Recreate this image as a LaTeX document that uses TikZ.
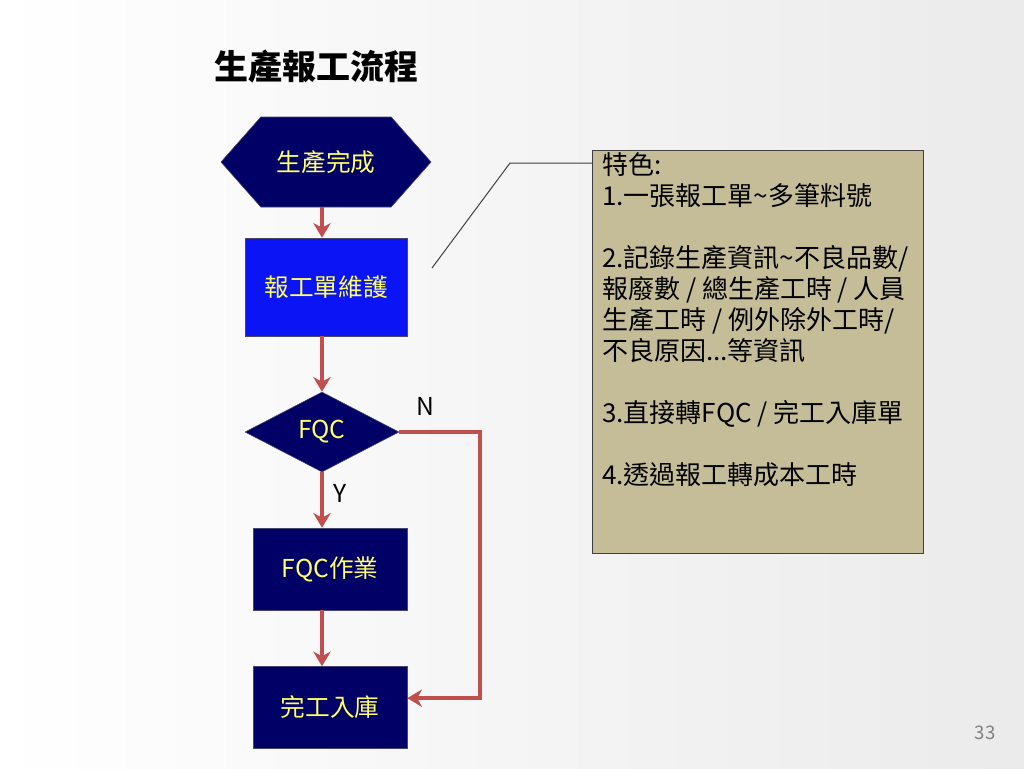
\documentclass[tikz,border=0pt]{standalone}
\usepackage{fontspec}
\setmainfont{Noto Sans CJK TC}
\usetikzlibrary{shapes.geometric, shapes.symbols, arrows.meta, positioning}
\definecolor{navy}{RGB}{0,0,102}
\definecolor{brightblue}{RGB}{10,20,245}
\definecolor{lemon}{RGB}{255,255,102}
\definecolor{edge}{RGB}{70,70,110}
\definecolor{arrowred}{RGB}{192,80,77}
\definecolor{tan}{RGB}{196,189,151}
\begin{document}
\begin{tikzpicture}[x=0.75pt, y=-0.75pt]
    \tikzset{
        hexa/.style = {signal, signal to=west and east, signal pointer angle=97, draw=edge, fill=navy, text=lemon, minimum width=157.5pt, minimum height=67.5pt, font=\fontsize{18.5pt}{22pt}\selectfont},
        task/.style = {rectangle, draw=edge, fill=navy, text=lemon, minimum width=115.5pt, minimum height=61.5pt, font=\fontsize{18.5pt}{22pt}\selectfont},
        maintask/.style = {task, fill=brightblue, minimum width=121.5pt, minimum height=73.5pt},
        check/.style = {diamond, aspect=2, draw=edge, fill=navy, text=lemon, minimum width=115.5pt, minimum height=60pt, inner sep=1pt, font=\fontsize{18.5pt}{22pt}\selectfont},
        notebox/.style = {rectangle, draw=black!75, fill=tan, anchor=north west, inner xsep=7.5pt, inner ysep=2pt, font=\fontsize{19.5pt}{23.2pt}\selectfont},
        tag/.style = {inner sep=0pt, font=\fontsize{18.5pt}{22pt}\selectfont},
        line/.style = {draw=arrowred, line width=3pt, -{Stealth[length=11pt, width=13pt, inset=3.5pt]}}
    }
    \fill[left color=white, right color=black!8] (0,0) rectangle (1024,768);
    \useasboundingbox (0,0) rectangle (1024,768);

    \node[font=\fontsize{25.5pt}{28pt}\selectfont\bfseries] (title) at (316,67) {生產報工流程};
    \node[hexa] (start) at (326,162) {生產完成};
    \node[maintask] (report) at (326,287) {報工單維護};
    \node[check] (fqc) at (322,432) {FQC};
    \node[task] (fqcjob) at (330,569) {FQC作業};
    \node[task] (stock) at (330,707.5) {完工入庫};
    \coordinate (loop) at (480,432);

    \node[notebox] (note) at (592,150) {\parbox[c][298pt][t]{233.25pt}{\raggedright
        特色:\\
        1.一張報工單\textasciitilde 多筆料號\\[23.2pt]
        2.記錄生產資訊\textasciitilde 不良品數/\\
        報廢數 / 總生產工時 / 人員\\
        生產工時 / 例外除外工時/\\
        不良原因...等資訊\\[23.2pt]
        3.直接轉FQC / 完工入庫單\\[23.2pt]
        4.透過報工轉成本工時}};
    \coordinate (knee) at (510,163);
    \coordinate (callout) at (432,268);
    \draw[black!75, line width=0.75pt] (note.west |- knee) -- (knee) -- (callout);

    \node[text=black!50, font=\fontsize{14pt}{16pt}\selectfont] (page) at (985,733) {33};

    \path[line] (start.south -| fqc) -- (report.north -| fqc);
    \path[line] (report.south -| fqc) -- (fqc.north);
    \path[line] (fqc.south) -- node[tag, pos=0.39, right=7pt] {Y} (fqc.south |- fqcjob.north);
    \path[line] (fqcjob.south -| fqc) -- (stock.north -| fqc);
    \path[line] (fqc.east) -- node[tag, pos=0.32, above=11pt] {N} (loop) |- ([yshift=7pt]stock.east);
\end{tikzpicture}
\end{document}
